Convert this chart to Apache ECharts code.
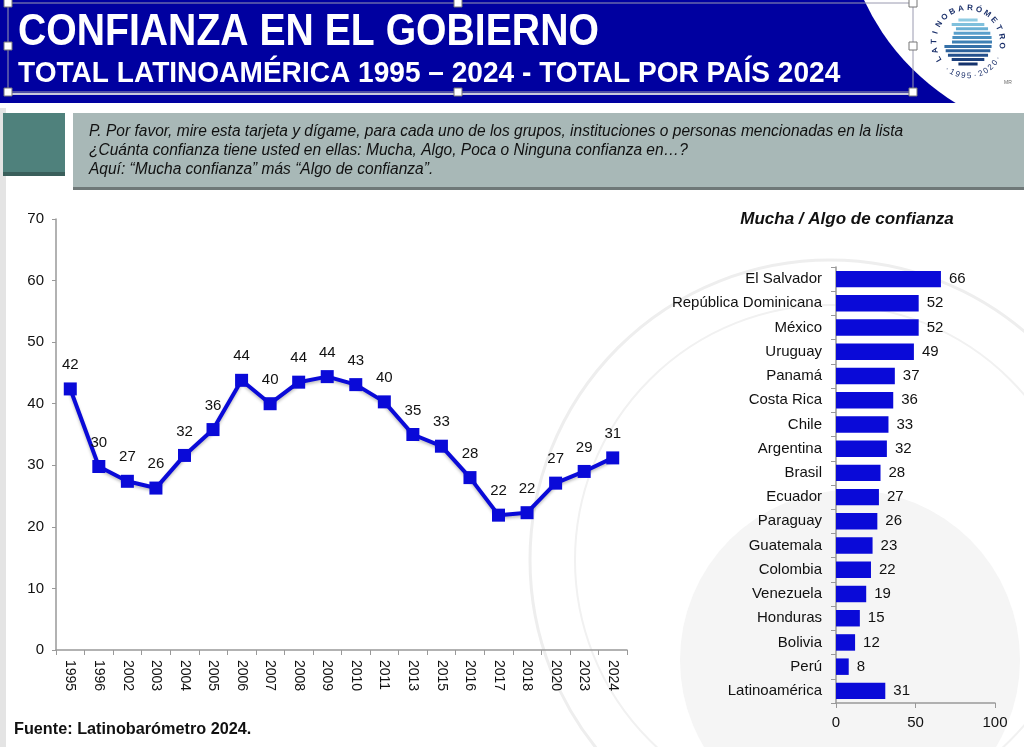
<!DOCTYPE html>
<html>
<head>
<meta charset="utf-8">
<script src="https://cdn.jsdelivr.net/npm/echarts@6/dist/echarts.min.js"></script>
<style>
html,body{margin:0;padding:0;background:#fff;}
#chart{width:1024px;height:747px;}
</style>
</head>
<body>
<div id="chart"></div>
<script>
// ---- Data ----
const years = ['1995','1996','2002','2003','2004','2005','2006','2007','2008','2009','2010','2011','2013','2015','2016','2017','2018','2020','2023','2024'];
const trustLatam = [42.4,29.8,27.4,26.3,31.6,35.8,43.8,40.0,43.5,44.4,43.1,40.3,35.0,33.1,28.0,21.9,22.3,27.1,29.0,31.2];
const countries = ['El Salvador','República Dominicana','México','Uruguay','Panamá','Costa Rica','Chile','Argentina','Brasil','Ecuador','Paraguay','Guatemala','Colombia','Venezuela','Honduras','Bolivia','Perú','Latinoamérica'];
const trust2024 = [66,52,52,49,37,36,33,32,28,27,26,23,22,19,15,12,8,31];
const lineTicks = {min:0, max:70, interval:10};
const barTicks = {min:0, max:100, interval:50};

const SANS = '"Liberation Sans",Arial,sans-serif';
const BLUE = '#0a0ad8';

const chart = echarts.init(document.getElementById('chart'));

const handles = [[8,3],[458,3],[913,3],[8,46],[913,46],[8,92],[458,92],[913,92]].map(p=>({
  type:'rect', shape:{x:p[0]-4,y:p[1]-4,width:8,height:8},
  style:{fill:'#ffffff',stroke:'#777',lineWidth:1}, z:20
}));

// logo
const LCX = 968, LCY = 42, LR = 34, GR = 24;
const logo = [];
const stripeCols = ['#8fcbe2','#7fc0dc','#6ab0d4','#5aa0cc','#4a90c0','#3f80b4','#3570a8','#2c609a','#24508c','#1c407c','#15336c'];
for(let i=0;i<11;i++){
  const dy = -22 + i*4.4;
  const hw = Math.sqrt(Math.max(0, GR*GR - dy*dy));
  const cut = (i>=2 && i<=5) ? 8 : 0;
  logo.push({type:'line', shape:{x1:LCX-hw+cut, y1:LCY+dy, x2:LCX+hw, y2:LCY+dy}, style:{stroke:stripeCols[i], lineWidth:3}, z:12});
}
const topTxt = 'LATINOBARÓMETRO';
for(let i=0;i<topTxt.length;i++){
  const th = (210 - i*(216/(topTxt.length-1))) * Math.PI/180;
  logo.push({type:'text', x:LCX + LR*Math.cos(th), y:LCY - LR*Math.sin(th), rotation: th - Math.PI/2,
    style:{text:topTxt[i], font:'bold 8px '+SANS, fill:'#1a2f6a', textAlign:'center', textVerticalAlign:'middle'}, z:12});
}
const botTxt = '·1995·2020·';
for(let i=0;i<botTxt.length;i++){
  const th = (232 + i*(100/(botTxt.length-1))) * Math.PI/180;
  logo.push({type:'text', x:LCX + LR*Math.cos(th), y:LCY - LR*Math.sin(th), rotation: th + Math.PI/2,
    style:{text:botTxt[i], font:'8px '+SANS, fill:'#1a2f6a', textAlign:'center', textVerticalAlign:'middle'}, z:12});
}
logo.push({type:'text', style:{text:'MR', x:1004, y:80, font:'5px '+SANS, fill:'#666'}, z:12});

const option = {
  animation:false,
  backgroundColor:'#ffffff',
  graphic:[
    // watermark
    {type:'circle', shape:{cx:830,cy:560,r:300}, style:{fill:'none',stroke:'#eeeeee',lineWidth:3}, z:-10},
    {type:'circle', shape:{cx:830,cy:560,r:255}, style:{fill:'none',stroke:'#f1f1f1',lineWidth:2}, z:-10},
    {type:'circle', shape:{cx:850,cy:660,r:170}, style:{fill:'#f5f5f5',stroke:'none'}, z:-11},
    // left stripe
    {type:'rect', shape:{x:0,y:108,width:6,height:639}, style:{fill:'#e4e4e4'}, z:-5},
    // header band
    {type:'rect', shape:{x:0,y:0,width:1024,height:103}, style:{fill:'#0000a0'}, z:1},
    {type:'circle', shape:{cx:1080,cy:-100,r:238}, style:{fill:'#ffffff'}, z:2},
    {type:'line', shape:{x1:8,y1:94,x2:917,y2:94}, style:{stroke:'#c9c9dd',lineWidth:2}, z:3},
    {type:'rect', shape:{x:8,y:3,width:905,height:89}, style:{fill:'none',stroke:'#9a9ab0',lineWidth:1}, z:4},
    ...handles,
    ...logo,
    // titles
    {type:'text', x:18, y:11, scaleX:0.89, style:{text:'CONFIANZA EN EL GOBIERNO', x:0, y:0, font:'bold 44px '+SANS, fill:'#ffffff'}, z:10},
    {type:'text', x:18, y:59, scaleX:0.936, style:{text:'TOTAL LATINOAMÉRICA 1995 – 2024 - TOTAL POR PAÍS 2024', x:0, y:0, font:'bold 30px '+SANS, fill:'#ffffff'}, z:10},
    // question box
    {type:'rect', shape:{x:3,y:113,width:62,height:62}, style:{fill:'#4f817c'}, z:5},
    {type:'rect', shape:{x:3,y:172,width:62,height:4}, style:{fill:'#3a5f5b'}, z:5},
    {type:'rect', shape:{x:73,y:113,width:951,height:76}, style:{fill:'#a8b8b7'}, z:5},
    {type:'rect', shape:{x:73,y:187,width:951,height:3}, style:{fill:'#6f7878'}, z:5},
    {type:'text', x:89, y:124, scaleX:0.97, style:{text:'P. Por favor, mire esta tarjeta y dígame, para cada uno de los grupos, instituciones o personas mencionadas en la lista', x:0, y:0, font:'italic 16px '+SANS, fill:'#111'}, z:6},
    {type:'text', x:89, y:143, scaleX:0.97, style:{text:'¿Cuánta confianza tiene usted en ellas: Mucha, Algo, Poca o Ninguna confianza en…?', x:0, y:0, font:'italic 16px '+SANS, fill:'#111'}, z:6},
    {type:'text', x:89, y:162, scaleX:0.97, style:{text:'Aquí: “Mucha confianza” más “Algo de confianza”.', x:0, y:0, font:'italic 16px '+SANS, fill:'#111'}, z:6},
    // bar title
    {type:'text', style:{text:'Mucha / Algo de confianza', x:847, y:211, font:'italic bold 17px '+SANS, fill:'#111', textAlign:'center'}, z:6},
    // source
    {type:'text', x:14, y:721, scaleX:0.955, style:{text:'Fuente: Latinobarómetro 2024.', x:0, y:0, font:'bold 17px '+SANS, fill:'#111'}, z:6}
  ],
  grid:[
    {left:56, right:397, top:219, bottom:97, containLabel:false},
    {left:836, right:29, top:267, bottom:44, containLabel:false}
  ],
  xAxis:[
    {gridIndex:0, type:'category', data:years, boundaryGap:true,
     axisLine:{lineStyle:{color:'#999',width:1.5}},
     axisTick:{show:true, alignWithLabel:false, length:5, lineStyle:{color:'#999'}},
     axisLabel:{rotate:-90, interval:0, margin:10, fontSize:14, color:'#111', fontFamily:SANS}},
    {gridIndex:1, type:'value', min:barTicks.min, max:barTicks.max, interval:barTicks.interval,
     splitLine:{show:false},
     axisLine:{show:true, lineStyle:{color:'#999',width:1.5}},
     axisTick:{show:true, length:5, lineStyle:{color:'#999'}},
     axisLabel:{fontSize:15, color:'#111', margin:12, fontFamily:SANS}}
  ],
  yAxis:[
    {gridIndex:0, type:'value', min:lineTicks.min, max:lineTicks.max, interval:lineTicks.interval,
     splitLine:{show:false},
     axisLine:{show:true, lineStyle:{color:'#999',width:1.5}},
     axisTick:{show:true, length:4, lineStyle:{color:'#999'}},
     axisLabel:{fontSize:15, color:'#111', margin:12, fontFamily:SANS}},
    {gridIndex:1, type:'category', data:countries, inverse:true,
     axisLine:{show:true, lineStyle:{color:'#999',width:1.5}},
     axisTick:{show:true, alignWithLabel:false, length:5, lineStyle:{color:'#999'}},
     axisLabel:{fontSize:15, color:'#111', margin:14, interval:0, fontFamily:SANS}}
  ],
  series:[
    {type:'line', xAxisIndex:0, yAxisIndex:0, data:trustLatam,
     symbol:'rect', symbolSize:13,
     lineStyle:{color:BLUE, width:4, shadowColor:'rgba(0,0,0,0.25)', shadowBlur:3, shadowOffsetY:2},
     itemStyle:{color:BLUE},
     label:{show:true, position:'top', distance:10, fontSize:15, color:'#111', fontFamily:SANS,
            formatter:p=>Math.round(p.value)}},
    {type:'bar', xAxisIndex:1, yAxisIndex:1, data:trust2024, barWidth:'68%',
     itemStyle:{color:BLUE},
     label:{show:true, position:'right', distance:8, fontSize:15, color:'#111', fontFamily:SANS}}
  ]
};
chart.setOption(option);
</script>
</body>
</html>
